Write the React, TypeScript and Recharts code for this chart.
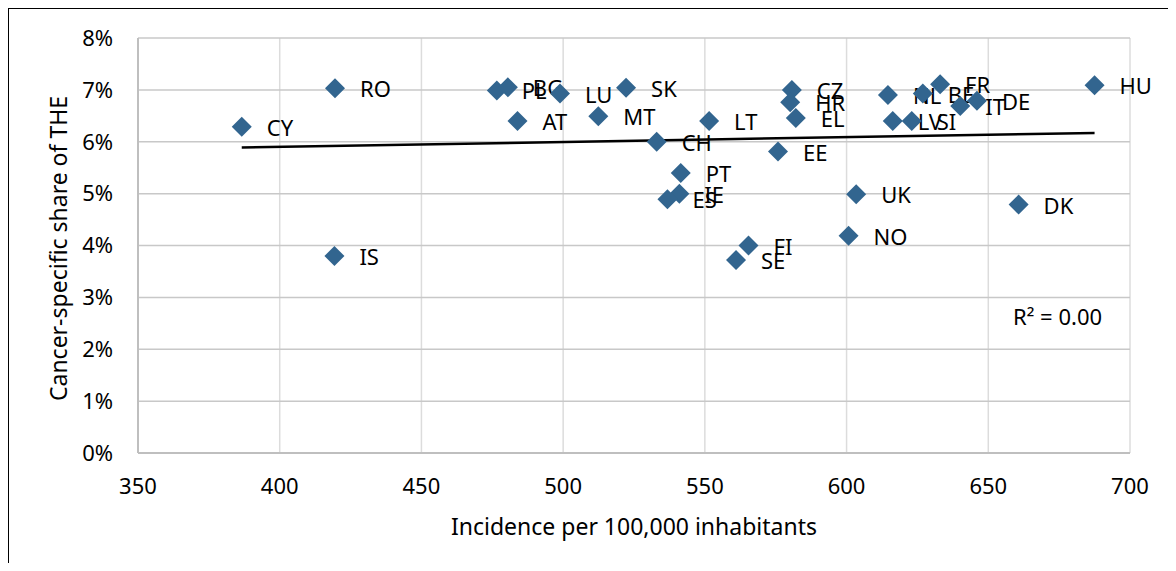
import {
  ScatterChart,
  Scatter,
  XAxis,
  YAxis,
  CartesianGrid,
  ReferenceLine,
  Label,
} from 'recharts';

const countries = ['CY', 'RO', 'IS', 'PL', 'BG', 'AT', 'LU', 'MT', 'SK', 'CH', 'PT', 'IE', 'ES', 'LT', 'SE', 'FI', 'EE', 'CZ', 'HR', 'EL', 'NO', 'UK', 'NL', 'LV', 'SI', 'BE', 'FR', 'IT', 'DE', 'DK', 'HU'];
const incidence = [386.6, 419.5, 419.3, 476.6, 480.5, 483.9, 498.9, 512.4, 522.2, 533.0, 541.5, 541.0, 536.8, 551.5, 561.0, 565.4, 575.8, 580.7, 580.1, 582.1, 600.7, 603.4, 614.6, 616.3, 623.0, 626.9, 633.0, 640.1, 646.0, 660.7, 687.5];
const share = [6.29, 7.03, 3.8, 6.99, 7.05, 6.4, 6.93, 6.49, 7.04, 6.0, 5.4, 5.0, 4.89, 6.4, 3.72, 4.0, 5.81, 7.0, 6.76, 6.46, 4.19, 4.99, 6.9, 6.4, 6.4, 6.93, 7.11, 6.69, 6.79, 4.79, 7.09];

const xTicks = [350, 400, 450, 500, 550, 600, 650, 700];
const yTicks = [0, 1, 2, 3, 4, 5, 6, 7, 8];

// trendline ends
const trendX = [386.6, 687.5];
const trendY = [5.89, 6.17];

const points = countries.map((c, i) => ({ name: c, x: incidence[i], y: share[i] }));

const FONT = '"Noto Sans", sans-serif';
const BLUE = '#32658f';

function Diamond(props: any) {
  const { cx, cy, payload } = props;
  const r = 10;
  return (
    <g>
      <polygon
        points={`${cx},${cy - r} ${cx + r},${cy} ${cx},${cy + r} ${cx - r},${cy}`}
        fill={BLUE}
      />
      <text x={cx + 25} y={cy + 9} fontSize={22} fontFamily={FONT} fill="#000">
        {payload.name}
      </text>
    </g>
  );
}

export default function App() {
  return (
    <div
      style={{
        position: 'relative',
        width: 1167,
        height: 562,
        borderLeft: '1px solid #000',
        borderTop: '1px solid #000',
        marginBottom: -8,
        overflow: 'hidden',
        background: '#fff',
      }}
    >
      <ScatterChart width={1167} height={562} margin={{ top: 29, right: 46, left: 29, bottom: 28 }}>
        <CartesianGrid horizontal={false} stroke="#dcdcdc" strokeWidth={1.5} />
        <CartesianGrid vertical={false} stroke="#c8c8c8" strokeWidth={1.5} />
        <XAxis
          type="number"
          dataKey="x"
          domain={[350, 700]}
          ticks={xTicks}
          height={90}
          tickSize={0}
          tickMargin={25}
          axisLine={{ stroke: '#bfbfbf', strokeWidth: 2 }}
          tick={{ fontSize: 22, fontFamily: FONT, fill: '#000' }}
        >
          <Label
            content={(p: any) => {
              const vb = p.viewBox || { x: 129, y: 444, width: 992 };
              return (
                <text x={vb.x + vb.width / 2} y={vb.y + 82} textAnchor="middle" fontSize={23} fontFamily={FONT} fill="#000">
                  Incidence per 100,000 inhabitants
                </text>
              );
            }}
          />
        </XAxis>
        <YAxis
          type="number"
          dataKey="y"
          domain={[0, 8]}
          ticks={yTicks}
          width={100}
          tickSize={0}
          tickMargin={25}
          tickFormatter={(v: number) => `${v}%`}
          axisLine={{ stroke: '#bfbfbf', strokeWidth: 2 }}
          tick={{ fontSize: 22, fontFamily: FONT, fill: '#000' }}
        >
          <Label
            content={(p: any) => {
              const vb = p.viewBox || { x: 29, y: 29, height: 415 };
              const x = vb.x + 29;
              const y = vb.y + vb.height / 2 + 3;
              return (
                <text x={x} y={y} transform={`rotate(-90, ${x}, ${y})`} textAnchor="middle" fontSize={23} fontFamily={FONT} fill="#000">
                  Cancer-specific share of THE
                </text>
              );
            }}
          />
        </YAxis>
        <ReferenceLine
          segment={[
            { x: trendX[0], y: trendY[0] },
            { x: trendX[1], y: trendY[1] },
          ]}
          stroke="#000"
          strokeWidth={2.5}
        />
        <Scatter data={points} shape={Diamond} isAnimationActive={false} />
      </ScatterChart>
      <div
        style={{
          position: 'absolute',
          left: 1004,
          top: 296,
          fontSize: 22,
          lineHeight: '22px',
          fontFamily: FONT,
          color: '#000',
          whiteSpace: 'nowrap',
        }}
      >
        R² = 0.00
      </div>
    </div>
  );
}
